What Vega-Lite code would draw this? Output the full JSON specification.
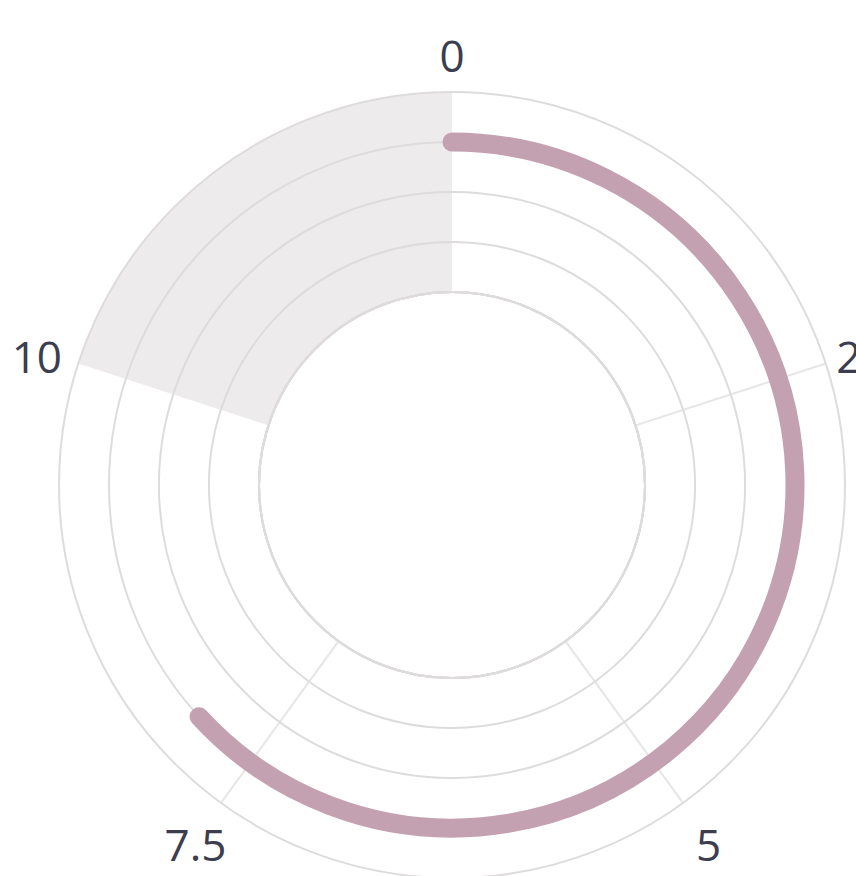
{
  "$schema": "https://vega.github.io/schema/vega-lite/v6.json",
  "autosize": "none",
  "width": 808,
  "height": 782,
  "padding": {"left": 48, "top": 94, "right": 0, "bottom": 0},
  "background": "white",
  "config": {"view": {"stroke": null}},
  "layer": [
    {
      "data": {"values": [{"start": 10, "end": 12.5, "inner": 0, "outer": 4}]},
      "mark": {"type": "arc", "fill": "#edebec", "stroke": null},
      "encoding": {
        "theta": {"field": "start", "type": "quantitative", "stack": null, "scale": {"type": "linear", "domain": [0, 12.5], "range": [0, 6.283185307179586], "zero": false}},
        "theta2": {"field": "end"},
        "radius": {"field": "outer", "type": "quantitative", "stack": null, "scale": {"type": "linear", "domain": [0, 4], "range": [193, 393], "zero": false}},
        "radius2": {"field": "inner"}
      }
    },
    {
      "data": {"values": [{"v": 2.5}, {"v": 5}, {"v": 7.5}]},
      "mark": {"type": "arc", "fill": "transparent", "stroke": "#e8e5e6", "strokeWidth": 2},
      "encoding": {
        "theta": {"field": "v", "type": "quantitative", "stack": null},
        "theta2": {"field": "v"},
        "radius": {"datum": 4, "type": "quantitative", "stack": null},
        "radius2": {"datum": 0}
      }
    },
    {
      "data": {"values": [{"r": 0}, {"r": 1}, {"r": 2}, {"r": 3}, {"r": 4}]},
      "mark": {"type": "arc", "fill": "transparent", "stroke": "#dedbdc", "strokeWidth": 2},
      "encoding": {
        "theta": {"datum": 0, "type": "quantitative", "stack": null},
        "theta2": {"datum": 12.5},
        "radius": {"field": "r", "type": "quantitative", "stack": null}
      }
    },
    {
      "data": {"values": [{"start": 0, "value": 7.9, "ring": 3}]},
      "mark": {"type": "arc", "fill": "transparent", "stroke": "#c4a1b0", "strokeWidth": 19, "strokeCap": "round", "strokeJoin": "round"},
      "encoding": {
        "theta": {"field": "start", "type": "quantitative", "stack": null},
        "theta2": {"field": "value"},
        "radius": {"field": "ring", "type": "quantitative", "stack": null},
        "radius2": {"field": "ring"}
      }
    },
    {
      "data": {"values": [
        {"v": 0, "label": "0"},
        {"v": 2.5, "label": "2.5"},
        {"v": 5, "label": "5"},
        {"v": 7.5, "label": "7.5"},
        {"v": 10, "label": "10"}
      ]},
      "mark": {"type": "text", "font": "Open Sans", "fontSize": 44, "color": "#3c3d4f", "align": "center", "baseline": "middle", "dy": 10},
      "encoding": {
        "theta": {"field": "v", "type": "quantitative", "stack": null},
        "radius": {"datum": 4.87, "type": "quantitative", "stack": null},
        "text": {"field": "label", "type": "nominal"}
      }
    }
  ]
}
